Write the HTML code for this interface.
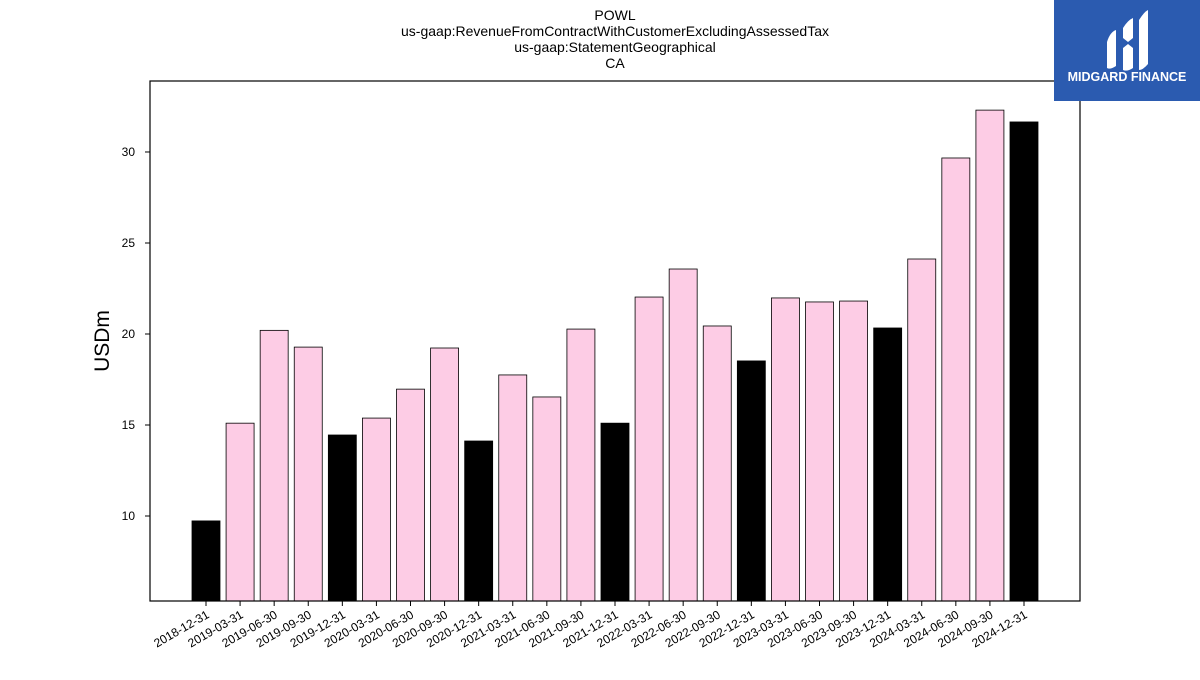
<!DOCTYPE html>
<html><head><meta charset="utf-8"><style>
body{margin:0;background:#fff;width:1200px;height:675px;overflow:hidden;font-family:"Liberation Sans","DejaVu Sans",sans-serif}
</style></head><body>
<svg id="c" width="1200" height="675" xmlns="http://www.w3.org/2000/svg">
<g font-size="14" text-anchor="middle" fill="#000">
<text x="615" y="20">POWL</text>
<text x="615" y="36">us-gaap:RevenueFromContractWithCustomerExcludingAssessedTax</text>
<text x="615" y="52">us-gaap:StatementGeographical</text>
<text x="615" y="68">CA</text>
</g>
<g id="bars"></g>
<g id="yt"></g>
<g id="xt"></g>
<rect x="150" y="81" width="930" height="520" fill="none" stroke="#000" stroke-width="1.2"/>
<text x="0" y="0" transform="translate(109,341) rotate(-90)" font-size="21" text-anchor="middle">USDm</text>
<g>
<rect x="1054" y="0" width="146" height="101" fill="#2b5bb0"/>
<path d="M1107 42 Q1110 32 1116 30 L1116 66 Q1110 70 1107 68 Z" fill="#fff"/>
<path d="M1123 28 Q1128 20 1133 18 L1133 38 L1128 42 L1123 38 Z" fill="#fff"/>
<path d="M1123 48 L1128 44 L1133 48 L1133 68 Q1127 72 1123 70 Z" fill="#fff"/>
<path d="M1139 20 Q1144 12 1148 10 L1148 64 Q1143 70 1139 70 Z" fill="#fff"/>
<text x="1127" y="81" font-size="12.5" font-weight="bold" fill="#fff" text-anchor="middle">MIDGARD FINANCE</text>
</g>
</svg>
<script>
const categories=["2018-12-31","2019-03-31","2019-06-30","2019-09-30","2019-12-31","2020-03-31","2020-06-30","2020-09-30","2020-12-31","2021-03-31","2021-06-30","2021-09-30","2021-12-31","2022-03-31","2022-06-30","2022-09-30","2022-12-31","2023-03-31","2023-06-30","2023-09-30","2023-12-31","2024-03-31","2024-06-30","2024-09-30","2024-12-31"];
const values=[9.73,15.1,20.2,19.28,14.45,15.38,16.97,19.23,14.12,17.75,16.54,20.27,15.1,22.03,23.57,20.44,18.52,21.98,21.76,21.81,20.33,24.12,29.67,32.3,31.65];
const yTicks=[10,15,20,25,30];
const yMin=5.33,yMax=33.9;
const ns="http://www.w3.org/2000/svg";
const y=v=>601-(v-yMin)*(520/(yMax-yMin));
const x=i=>206+i*(1024-206)/(categories.length-1);
const bars=document.getElementById('bars'),yt=document.getElementById('yt'),xt=document.getElementById('xt');
function mk(t,a,p){const e=document.createElementNS(ns,t);for(const k in a)e.setAttribute(k,a[k]);p.appendChild(e);return e;}
categories.forEach((c,i)=>{
 const dec=c.endsWith("12-31");
 const r=mk('rect',{x:x(i)-14,y:y(values[i]),width:28,height:601-y(values[i]),fill:dec?'#000':'#fdcce5',stroke:'#000','stroke-width':0.8},bars);
 
 
 const l=mk('line',{x1:x(i),x2:x(i),y1:601,y2:606,stroke:'#000'},xt);
 
 
 const t=mk('text',{x:0,y:0,'font-size':12,'text-anchor':'end',transform:`translate(${x(i)+4},${617}) rotate(-30)`},xt);
 t.textContent=c;
 
 
});
yTicks.forEach(v=>{
 const l=mk('line',{x1:145,x2:150,y1:y(v),y2:y(v),stroke:'#000'},yt);
 
 
 const t=mk('text',{x:135,y:y(v)+4,'font-size':12,'text-anchor':'end'},yt);
 t.textContent=v;
 
 
});
</script>
</body></html>
